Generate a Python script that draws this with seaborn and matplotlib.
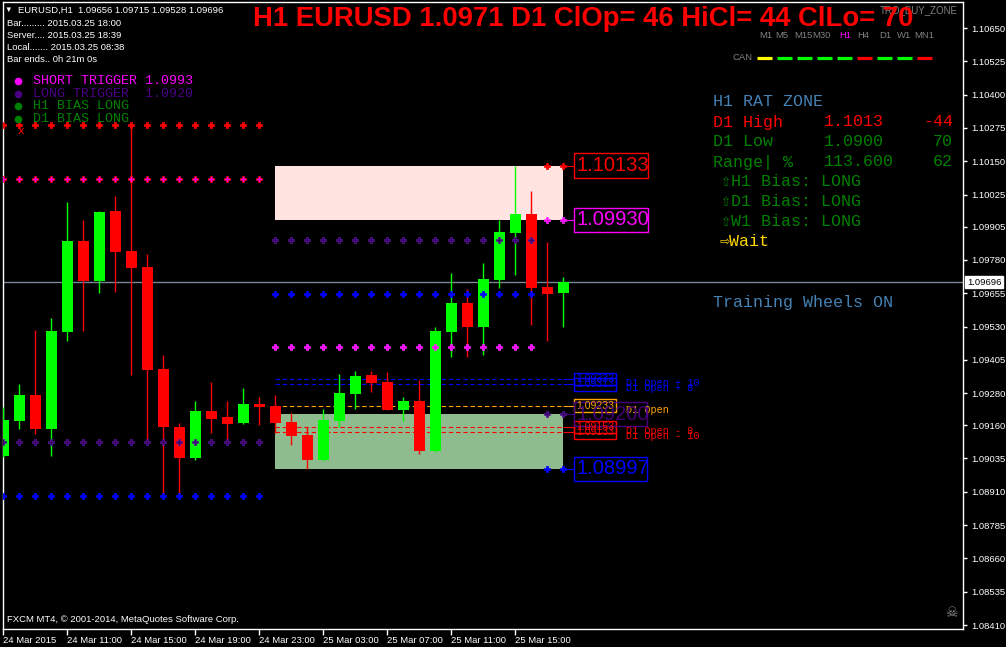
import numpy as np
import pandas as pd
import matplotlib
matplotlib.use("Agg")
import matplotlib.pyplot as plt
import matplotlib.transforms as mtransforms
from matplotlib.patches import Rectangle
import seaborn as sns

# ---------------- data ----------------
opens = [1.09044, 1.09176, 1.09273, 1.09145, 1.09509, 1.09851, 1.09701, 1.09963, 1.09813, 1.09753,
         1.09371, 1.09153, 1.09037, 1.09213, 1.09190, 1.09168, 1.09239, 1.09232, 1.09172, 1.09123,
         1.09029, 1.09176, 1.09277, 1.09348, 1.09322, 1.09217, 1.09250, 1.09063, 1.09509, 1.09618,
         1.09528, 1.09705, 1.09881, 1.09952, 1.09678, 1.09656]
highs = [1.09228, 1.09314, 1.09517, 1.09562, 1.09997, 1.09930, 1.09963, 1.10020, 1.10286, 1.09802,
         1.09423, 1.09168, 1.09250, 1.09322, 1.09250, 1.09299, 1.09266, 1.09273, 1.09205, 1.09153,
         1.09220, 1.09352, 1.09363, 1.09363, 1.09359, 1.09266, 1.09329, 1.09528, 1.09731, 1.09671,
         1.09768, 1.09930, 1.10133, 1.10038, 1.09847, 1.09715]
lows = [1.09040, 1.09145, 1.09127, 1.09044, 1.09476, 1.09513, 1.09656, 1.09659, 1.09348, 1.09100,
        1.08902, 1.08905, 1.09029, 1.09130, 1.09100, 1.09164, 1.09160, 1.09130, 1.09085, 1.08997,
        1.09025, 1.09153, 1.09220, 1.09284, 1.09215, 1.09176, 1.09052, 1.09059, 1.09416, 1.09416,
        1.09423, 1.09675, 1.09723, 1.09536, 1.09476, 1.09528]
closes = [1.09179, 1.09273, 1.09145, 1.09513, 1.09851, 1.09701, 1.09960, 1.09810, 1.09750, 1.09367,
          1.09153, 1.09037, 1.09213, 1.09183, 1.09164, 1.09239, 1.09228, 1.09168, 1.09119, 1.09029,
          1.09179, 1.09281, 1.09344, 1.09318, 1.09217, 1.09250, 1.09063, 1.09513, 1.09618, 1.09528,
          1.09708, 1.09885, 1.09952, 1.09675, 1.09652, 1.09696]

x_tick_bars = [0, 4, 8, 12, 16, 20, 24, 28, 32]
x_tick_labels = ["24 Mar 2015", "24 Mar 11:00", "24 Mar 15:00", "24 Mar 19:00", "24 Mar 23:00",
                 "25 Mar 03:00", "25 Mar 07:00", "25 Mar 11:00", "25 Mar 15:00"]
y_ticks = [1.10650, 1.10525, 1.10400, 1.10275, 1.10150, 1.10025, 1.09905, 1.09780, 1.09655, 1.09530,
           1.09405, 1.09280, 1.09160, 1.09035, 1.08910, 1.08785, 1.08660, 1.08535, 1.08410]

# trigger dot rows: (first bar, last bar, price, kind)
prev_day_rows = [(0, 16, 1.10286, "red"), (0, 16, 1.10083, "redmag"),
                 (0, 16, 1.09097, "purple"), (0, 16, 1.08894, "blue")]
today_rows = [(17, 33, 1.09855, "purple"), (17, 33, 1.09652, "blue"), (17, 33, 1.09453, "magenta")]
zone_edge_rows = [(34, 35, 1.10133, "red"), (34, 35, 1.09930, "magenta"),
                  (34, 35, 1.09200, "purple"), (34, 35, 1.08997, "blue")]

pink_zone = (1.09930, 1.10133)
green_zone = (1.08997, 1.09200)
zone_start, zone_end = 17, 35

open_levels = [1.09333, 1.09313, 1.09233, 1.09153, 1.09133]
open_level_names = ["D1 Open + 10", "D1 Open + 8", "D1 Open", "D1 Open - 8", "D1 Open - 10"]
open_level_colors = ["#0000ff", "#0000ff", "#ffa500", "#ff0000", "#ff0000"]

# ---------------- figure ----------------
sns.set_theme(style="dark")
plt.rcParams["font.family"] = ["Liberation Sans", "DejaVu Sans"]
MONO = ["Liberation Mono", "DejaVu Sans Mono", "DejaVu Sans"]

W, H = 1006, 647
fig = plt.figure(figsize=(W / 100, H / 100), dpi=100, facecolor="black")
L, R, T, B = 3, 963, 2, 629
ax = fig.add_axes([L / W, 1 - B / H, (R - L) / W, (B - T) / H])
ax.set_facecolor("black")
ax.grid(False)
ax.set_xlim(-0.02, 59.98)
ax.set_ylim(1.083950, 1.107476)

PXX = 16.0                 # pixels per bar
PXY = 627 / (1.107476 - 1.083950)  # pixels per price unit

o = np.array(opens); h = np.array(highs); l = np.array(lows); c = np.array(closes)
xi = np.arange(len(o))
cols = np.where(c >= o, "#00ff00", "#ff0000")

# zones
ax.add_patch(Rectangle((zone_start, pink_zone[0]), zone_end - zone_start, pink_zone[1] - pink_zone[0],
                       fc="#ffe4e1", ec="none", zorder=1))
ax.add_patch(Rectangle((zone_start, green_zone[0]), zone_end - zone_start, green_zone[1] - green_zone[0],
                       fc="#8fbc8f", ec="none", zorder=1))

# current price line
ax.axhline(c[-1], color="#778899", lw=1, zorder=2)

# D1 open levels
lab_x = zone_end + 10.7 / PXX
for val, col in zip(open_levels, open_level_colors):
    ax.hlines(val, zone_start, zone_end, colors=col, lw=0.8, linestyles=(0, (4, 2.5)), zorder=3)
    ax.hlines(val, zone_end, lab_x, colors=col, lw=0.8, zorder=3)
for val, col in [(pink_zone[1], "#ff0000"), (pink_zone[0], "#ff00ff"),
                 (green_zone[1], "#4b0082"), (green_zone[0], "#0000ff")]:
    ax.hlines(val, zone_end, lab_x, colors=col, lw=0.8, zorder=3)

# candles
ax.vlines(xi, l, h, colors=cols, lw=1.0, zorder=4)
ax.bar(xi, np.maximum(np.abs(c - o), 1.5 / PXY), bottom=np.minimum(o, c), width=0.69,
       color=cols, lw=0, zorder=5)

# trigger dot rows via seaborn
recs = []
for a, b, p, k in prev_day_rows + today_rows + zone_edge_rows:
    for i in range(a, b + 1):
        recs.append({"bar": i, "price": p, "kind": k})
dots = pd.DataFrame(recs)
face = {"red": "#ff0000", "redmag": "#ff00ff", "purple": "#3c0070", "blue": "#0000ff", "magenta": "#ff00ff"}
edge = {"red": "#ff0000", "redmag": "#ff0000", "purple": "#5a1a9a", "blue": "#0000ff", "magenta": "#ff33ff"}
for k, sub in dots.groupby("kind"):
    sns.scatterplot(data=sub, x="bar", y="price", marker="P", s=15, color=face[k],
                    edgecolor=edge[k], linewidth=0.5, ax=ax, zorder=6, legend=False)


def boxed(x0, yc, wpx, hpx, s, col, size, tcol=None, alpha=1.0):
    ax.add_patch(Rectangle((x0, yc - hpx / 2 / PXY), wpx / PXX, hpx / PXY, fc="none", ec=col,
                           lw=1.0, zorder=7, clip_on=False))
    ax.text(x0 + 2.5 / PXX, yc, s, color=tcol or col, fontsize=size, va="center", ha="left",
            zorder=8, alpha=alpha, clip_on=False)


# small open-level labels
for val, col, name in zip(open_levels, open_level_colors, open_level_names):
    boxed(lab_x, val, 42, 12.5, f"{val:.5f}", col, 7.6)
    ax.text(lab_x + 52 / PXX, val - 4 / PXY, name, color=col, fontsize=7.3, family=MONO,
            va="center", ha="left", zorder=8)

# big zone labels
boxed(lab_x, pink_zone[1], 74, 25, f"{pink_zone[1]:.5f}", "#ff0000", 14.5)
boxed(lab_x, pink_zone[0], 74, 24, f"{pink_zone[0]:.5f}", "#ff00ff", 14.5)
boxed(lab_x, green_zone[1], 73, 24, f"{green_zone[1]:.5f}", "#4b0082", 14.5, alpha=0.9)
boxed(lab_x, green_zone[0], 73, 24, f"{green_zone[0]:.5f}", "#0000ff", 14.5)

# axes styling
for sp in ax.spines.values():
    sp.set_color("white")
    sp.set_linewidth(1.0)
    sp.set_visible(True)
ax.yaxis.tick_right()
ax.set_yticks(y_ticks)
ax.set_yticklabels([f"{v:.5f}" for v in y_ticks])
ax.set_xticks(x_tick_bars)
ax.set_xticklabels(x_tick_labels)
ax.tick_params(axis="y", colors="white", length=3, width=1, direction="out", pad=3,
               labelsize=6.8, right=True, left=False)
ax.tick_params(axis="x", colors="white", length=4, width=1, direction="out", pad=1,
               labelsize=6.8, bottom=True)
for lb in ax.get_xticklabels():
    lb.set_ha("left")
ax.set_xlabel("")
ax.set_ylabel("")

# current price box on axis
tr = mtransforms.blended_transform_factory(ax.transAxes, ax.transData)
ax.text(1.004, c[-1], f"{c[-1]:.5f}", transform=tr, color="black", fontsize=6.8, va="center",
        ha="left", clip_on=False, zorder=9,
        bbox=dict(boxstyle="square,pad=0.18", fc="white", ec="white"))

# ---------------- overlay texts (pixel space) ----------------
ov = fig.add_axes([0, 0, 1, 1], zorder=10)
ov.set_xlim(0, W)
ov.set_ylim(H, 0)
ov.axis("off")
ov.patch.set_alpha(0)


def t(x, y, s, col="white", size=6.8, ha="left", **kw):
    ov.text(x, y, s, color=col, fontsize=size, ha=ha, va="center", **kw)


t(4, 10, "▼", size=5.5)
t(18, 10, f"EURUSD,H1  {o[-1]:.5f} {h[-1]:.5f} {l[-1]:.5f} {c[-1]:.5f}")
t(7, 23, "Bar......... 2015.03.25 18:00")
t(7, 35, "Server.... 2015.03.25 18:39")
t(7, 47, "Local....... 2015.03.25 08:38")
t(7, 60, "Bar ends.. 0h 21m 0s")

legend_rows = [("SHORT TRIGGER 1.0993", "#ff00ff"), ("LONG TRIGGER  1.0920", "#4b0082"),
               ("H1 BIAS LONG", "#008000"), ("D1 BIAS LONG", "#008000")]
for k, (s, col) in enumerate(legend_rows):
    y = 81 + k * 12.7
    ov.scatter([18], [y], s=30, color=col, lw=0)
    t(33, y, s, col=col, size=9.6, family=MONO)
t(18, 131, "ẋ", col="#ff0000", size=8, family=["DejaVu Sans"])

t(880, 10, "TRO_BUY_ZONE", col="#808080", size=7)
t(253, 19, "H1 EURUSD 1.0971 D1 ClOp= 46 HiCl= 44 ClLo= 70", col="#ff0000", size=19.8,
  fontweight="bold")

tf_labels = ["M1", "M5", "M15", "M30", "H1", "H4", "D1", "W1", "MN1"]
tf_x = [766, 782, 803, 821, 845, 863, 885, 904, 924]
for s, xx in zip(tf_labels, tf_x):
    t(xx, 36, s, col="#ff00ff" if s == "H1" else "#808080", size=6.8, ha="center")
t(733, 58, "CAN", col="#808080", size=6.8)
can_colors = ["#ffff00", "#00ff00", "#00ff00", "#00ff00", "#00ff00", "#ff0000", "#00ff00", "#00ff00",
              "#ff0000"]
for k, col in enumerate(can_colors):
    ov.plot([757 + 20 * k, 772 + 20 * k], [58, 58], color=col, lw=2.3, solid_capstyle="butt")

t(713, 102, "H1 RAT ZONE", col="#4682b4", size=12, family=MONO)
panel = [("D1 High", "1.1013", "-44", "#ff0000"), ("D1 Low", "1.0900", "70", "#008000"),
         ("Range| %", "113.600", "62", "#008000")]
for k, (a, b, cc, col) in enumerate(panel):
    y = 122 + 20 * k
    t(713, y, a, col=col, size=12, family=MONO)
    t(824, y, b, col=col, size=12, family=MONO)
    t(953, y, cc, col=col, size=12, family=MONO, ha="right")
for k, s in enumerate(["⇧H1 Bias: LONG", "⇧D1 Bias: LONG", "⇧W1 Bias: LONG"]):
    t(721, 182 + 20 * k, s, col="#008000", size=12, family=MONO)
t(719, 242, "⇨Wait", col="#ffd700", size=12, family=MONO)
t(713, 303, "Training Wheels ON", col="#4682b4", size=12, family=MONO)

t(7, 620, "FXCM MT4, © 2001-2014, MetaQuotes Software Corp.")
t(951, 613, "☠", col="#8a8a8a", size=10, ha="center", family=["DejaVu Sans"])

fig.savefig("out.png", dpi=100, facecolor="black")
